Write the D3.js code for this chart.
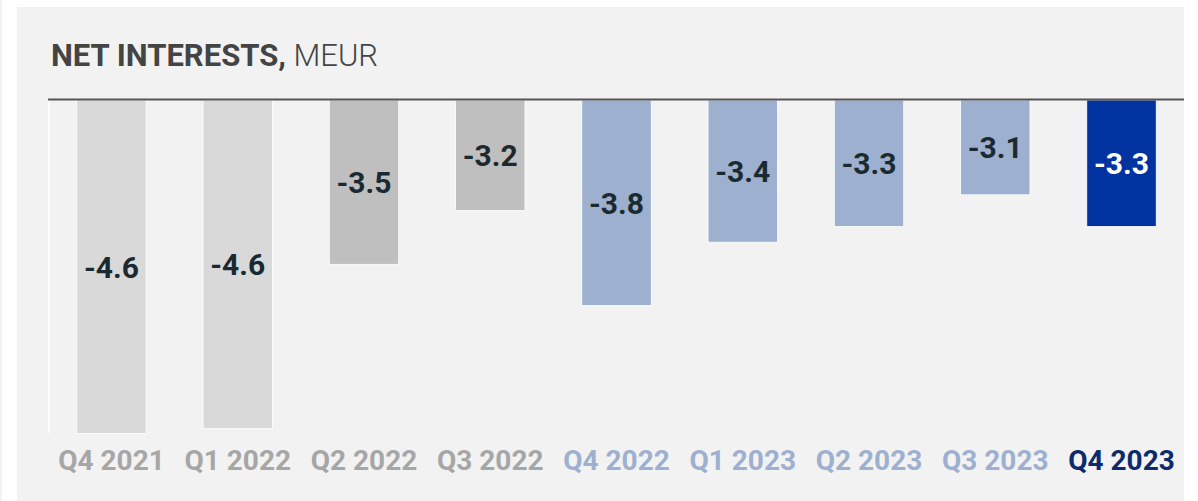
<!DOCTYPE html>
<html><head><meta charset="utf-8">
<script src="https://cdn.jsdelivr.net/npm/d3@7"></script>
<style>
html,body{margin:0;padding:0;background:#fff;}
svg{display:block;font-family:Roboto, "Noto Sans", sans-serif;}
</style></head>
<body>
<svg id="chart" width="1198" height="501"></svg>
<script>
// Data
const categories = ["Q4 2021","Q1 2022","Q2 2022","Q3 2022","Q4 2022","Q1 2023","Q2 2023","Q3 2023","Q4 2023"];
const values = [-4.61, -4.58, -3.54, -3.20, -3.80, -3.40, -3.30, -3.10, -3.30];
const groups = ["old","old","mid","mid","prev","prev","prev","prev","cur"];
const titleBold = "NET INTERESTS,";
const titleLight = " MEUR";

const barColor = {old:"#d9d9d9", mid:"#bfbfbf", prev:"#9db0cf", cur:"#0033a0"};
const tickColor = {old:"#a6a6a6", mid:"#a6a6a6", prev:"#9db0cf", cur:"#0c2a6e"};
const labelColor = {old:"#1b2a30", mid:"#1b2a30", prev:"#1b2a30", cur:"#ffffff"};

const svg = d3.select("#chart");
// panel
svg.append("rect").attr("x",0.5).attr("y",0).attr("width",1).attr("height",501).attr("fill","#e6e6e6");
svg.append("rect").attr("x",17).attr("y",7).attr("width",1167).attr("height",494).attr("fill","#f2f2f2");

// title
const title = svg.append("text").attr("x",51).attr("y",66).attr("font-size",31).attr("fill","#444");
title.append("tspan").attr("font-weight",700).text(titleBold);
title.append("tspan").attr("font-weight",300).text(titleLight);

const x = d3.scaleBand().domain(categories).range([49,1184]).paddingInner(0.45).paddingOuter(0.22);
const y = d3.scaleLinear().domain([-2.5,-5]).range([100,495]);

const g = svg.append("g");
g.selectAll("rect.bar").data(values).join("rect")
  .attr("class","bar")
  .attr("x",(d,i)=>x(categories[i]))
  .attr("width",x.bandwidth())
  .attr("y",y(-2.5))
  .attr("height",d=>y(d)-y(-2.5))
  .attr("fill",(d,i)=>barColor[groups[i]])
  .attr("stroke","#ffffff").attr("stroke-width",0.8);

g.selectAll("text.val").data(values).join("text")
  .attr("class","val")
  .attr("x",(d,i)=>x(categories[i])+x.bandwidth()/2)
  .attr("y",d=>(y(-2.5)+y(d))/2+11)
  .attr("text-anchor","middle")
  .attr("font-size",30).attr("font-weight",700)
  .attr("fill",(d,i)=>labelColor[groups[i]])
  .text(d=>d3.format(".1f")(d).replace("−","-"));

// y axis line (white)
svg.append("line").attr("x1",49).attr("x2",49).attr("y1",100).attr("y2",433)
  .attr("stroke","#ffffff").attr("stroke-width",1.5);
// baseline
svg.append("line").attr("x1",48).attr("x2",1184).attr("y1",99.5).attr("y2",99.5)
  .attr("stroke","#555").attr("stroke-width",2);

// x axis labels
const xAxis = svg.append("g").attr("transform","translate(0,440)")
  .call(d3.axisBottom(x).tickSize(0).tickPadding(0));
xAxis.select(".domain").remove();
xAxis.selectAll("text")
  .attr("y",30).attr("dy",0)
  .attr("font-size",28).attr("font-weight",700).attr("font-family","Roboto, sans-serif")
  .attr("fill",(d,i)=>tickColor[groups[i]]);
</script>
</body></html>
